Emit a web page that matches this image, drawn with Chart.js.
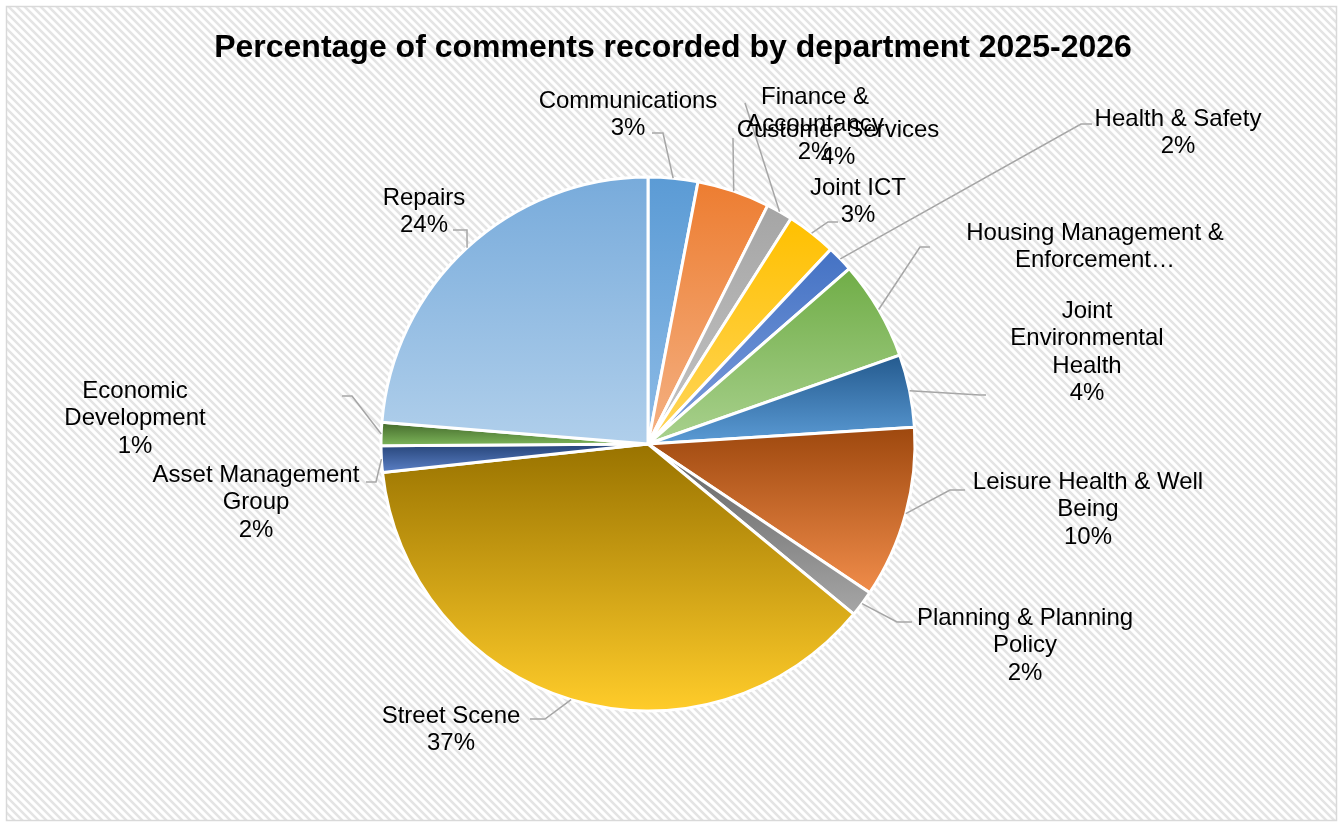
<!DOCTYPE html>
<html>
<head>
<meta charset="utf-8">
<script src="https://cdn.jsdelivr.net/npm/chart.js@4.4.1/dist/chart.umd.min.js"></script>
<style>
  html, body { margin: 0; padding: 0; background: #ffffff; overflow: hidden; }
  #wrap { width: 1340px; height: 822px; position: relative; }
</style>
</head>
<body>
<div id="wrap"><canvas id="chart" width="1340" height="822"></canvas></div>
<script>
// ---- data ----
const chartTitle = 'Percentage of comments recorded by department 2025-2026';

const departments = [
  'Communications',
  'Customer Services',
  'Finance & Accountancy',
  'Joint ICT',
  'Health & Safety',
  'Housing Management & Enforcement',
  'Joint Environmental Health',
  'Leisure Health & Well Being',
  'Planning & Planning Policy',
  'Street Scene',
  'Asset Management Group',
  'Economic Development',
  'Repairs'
];

// share of all comments, per cent
const shares = [3.0, 4.4, 1.6, 3.0, 1.6, 6.0, 4.4, 10.4, 1.6, 37.3, 1.6, 1.4, 23.7];

// how each data label wraps
const labelLines = [
  ['Communications'],
  ['Customer Services'],
  ['Finance &', 'Accountancy'],
  ['Joint ICT'],
  ['Health & Safety'],
  ['Housing Management &', 'Enforcement\u2026'],
  ['Joint', 'Environmental', 'Health'],
  ['Leisure Health & Well', 'Being'],
  ['Planning & Planning', 'Policy'],
  ['Street Scene'],
  ['Asset Management', 'Group'],
  ['Economic', 'Development'],
  ['Repairs']
];
// the housing label is cut short, so its percentage is not shown
const showPercent = [true, true, true, true, true, false, true, true, true, true, true, true, true];

// ---- styling ----
const topColours = ['#5B9BD5', '#ED7D31', '#A5A5A5', '#FFC000', '#4472C4', '#70AD47',
                    '#245A8E', '#9E480E', '#636363', '#997300', '#264478', '#43682B', '#78ABDB'];
const bottomColours = ['#8DBBE6', '#F4B183', '#C4C4C4', '#FFD65C', '#7E9FDC', '#A9D18E',
                       '#5B9BD5', '#F08C4A', '#A6A6A6', '#FFCC2A', '#5B80C6', '#7DB65A', '#B0CFEB'];

// label placement relative to the pie centre (px): text centre x, first line y, leader bends
const labelLayout = [
  { x: -20,  y: -345, bends: [[15, -311], [4, -311]] },
  { x: 190,  y: -316, bends: [[85, -306]] },
  { x: 167,  y: -349, bends: [[97, -341]] },
  { x: 210,  y: -258, bends: [[180, -222], [190, -222]] },
  { x: 530,  y: -327, bends: [[433, -320], [444, -320]] },
  { x: 447,  y: -213, bends: [[272, -197], [282, -197]] },
  { x: 439,  y: -135, bends: [[332, -49], [338, -49]] },
  { x: 440,  y: 36,   bends: [[302, 46], [317, 46]] },
  { x: 377,  y: 172,  bends: [[249, 178], [264, 178]] },
  { x: -197, y: 270,  bends: [[-103, 275], [-118, 275]] },
  { x: -392, y: 29,   bends: [[-272, 38], [-282, 38]] },
  { x: -513, y: -55,  bends: [[-296, -48], [-306, -48]] },
  { x: -224, y: -248, bends: [[-181, -214], [-195, -214]] }
];

const FONT = "'Liberation Sans', Arial, sans-serif";
const LINE_H = 27.6;

// striped panel, frame and title
const panelPlugin = {
  id: 'panel',
  beforeDraw(chart) {
    const ctx = chart.ctx;
    ctx.save();
    ctx.fillStyle = '#ffffff';
    ctx.fillRect(0, 0, chart.width, chart.height);
    const x0 = 6, y0 = 6, x1 = 1337, y1 = 821;
    ctx.beginPath();
    ctx.rect(x0, y0, x1 - x0, y1 - y0);
    ctx.clip();
    ctx.strokeStyle = '#e4e4e4';
    ctx.lineWidth = 2.6;
    for (let k = -chart.height; k < chart.width + chart.height; k += 8) {
      ctx.beginPath();
      ctx.moveTo(k, 0);
      ctx.lineTo(k + chart.height, chart.height);
      ctx.stroke();
    }
    ctx.restore();
    ctx.save();
    ctx.strokeStyle = '#d9d9d9';
    ctx.lineWidth = 1.5;
    ctx.strokeRect(x0 + 0.5, y0 + 0.5, x1 - x0 - 1, y1 - y0 - 1);
    ctx.fillStyle = '#000000';
    ctx.font = 'bold 32px ' + FONT;
    ctx.textAlign = 'center';
    ctx.textBaseline = 'middle';
    ctx.fillText(chartTitle, 673, 48);
    ctx.restore();
  }
};

// vertical gradient per slice, spanning the slice's own height
const gradientPlugin = {
  id: 'sliceGradient',
  beforeDatasetsDraw(chart) {
    const ctx = chart.ctx;
    const arcs = chart.getDatasetMeta(0).data;
    arcs.forEach((arc, i) => {
      const { x, y, startAngle, endAngle, outerRadius } = arc.getProps(['x', 'y', 'startAngle', 'endAngle', 'outerRadius']);
      let minY = y, maxY = y;
      const ys = [y + outerRadius * Math.sin(startAngle), y + outerRadius * Math.sin(endAngle)];
      ys.forEach(v => { minY = Math.min(minY, v); maxY = Math.max(maxY, v); });
      const inRange = a => {
        for (let t = a - 4 * Math.PI; t <= a + 4 * Math.PI; t += 2 * Math.PI) {
          if (t >= startAngle && t <= endAngle) return true;
        }
        return false;
      };
      if (inRange(-Math.PI / 2)) minY = y - outerRadius;
      if (inRange(Math.PI / 2)) maxY = y + outerRadius;
      if (maxY - minY < 1) maxY = minY + 1;
      const g = ctx.createLinearGradient(0, minY, 0, maxY);
      g.addColorStop(0, topColours[i]);
      g.addColorStop(1, bottomColours[i]);
      arc.options.backgroundColor = g;
    });
  }
};

// data labels with leader lines
const labelPlugin = {
  id: 'sliceLabels',
  afterDatasetsDraw(chart) {
    const ctx = chart.ctx;
    const ds = chart.data.datasets[0];
    const total = ds.data.reduce((a, b) => a + b, 0);
    const arcs = chart.getDatasetMeta(0).data;
    ctx.save();
    arcs.forEach((arc, i) => {
      const { x, y, startAngle, endAngle, outerRadius } = arc.getProps(['x', 'y', 'startAngle', 'endAngle', 'outerRadius']);
      const mid = (startAngle + endAngle) / 2;
      const ex = x + outerRadius * Math.cos(mid);
      const ey = y + outerRadius * Math.sin(mid);
      const lay = labelLayout[i];
      ctx.strokeStyle = '#a6a6a6';
      ctx.lineWidth = 1.5;
      ctx.beginPath();
      ctx.moveTo(ex, ey);
      lay.bends.forEach(p => ctx.lineTo(x + p[0], y + p[1]));
      ctx.stroke();
    });
    arcs.forEach((arc, i) => {
      const { x, y } = arc.getProps(['x', 'y']);
      const lay = labelLayout[i];
      const lines = labelLines[i].slice();
      if (showPercent[i]) lines.push(Math.round(ds.data[i] / total * 100) + '%');
      ctx.fillStyle = '#000000';
      ctx.font = '24px ' + FONT;
      ctx.textAlign = 'center';
      ctx.textBaseline = 'middle';
      lines.forEach((t, k) => ctx.fillText(t, x + lay.x, y + lay.y + 2 + k * LINE_H));
    });
    ctx.restore();
  }
};

new Chart(document.getElementById('chart'), {
  type: 'pie',
  data: {
    labels: departments,
    datasets: [{
      data: shares,
      backgroundColor: topColours,
      borderColor: '#ffffff',
      borderWidth: 3,
      radius: 267
    }]
  },
  options: {
    responsive: false,
    devicePixelRatio: 1,
    animation: false,
    events: [],
    layout: { padding: { top: 66, right: 44, bottom: 0, left: 0 } },
    plugins: {
      legend: { display: false },
      tooltip: { enabled: false },
      title: { display: false }
    }
  },
  plugins: [panelPlugin, gradientPlugin, labelPlugin]
});
</script>
</body>
</html>
